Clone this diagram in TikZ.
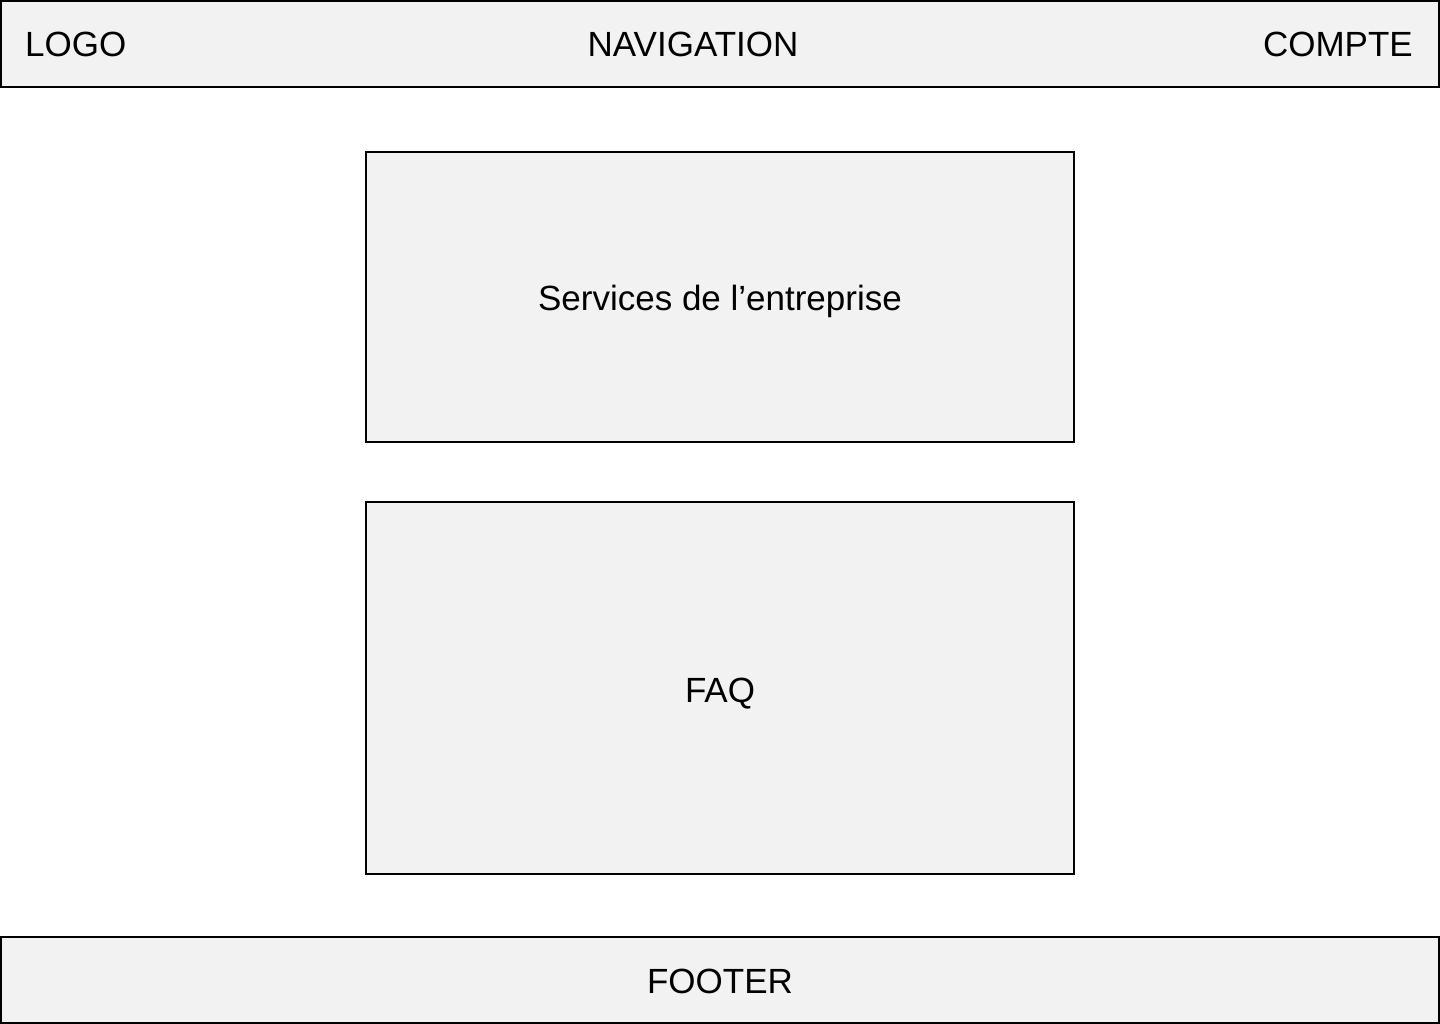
\documentclass[tikz,border=0pt]{standalone}
\usepackage{fontspec}
\setmainfont{Liberation Sans}
\begin{document}
\begin{tikzpicture}[x=1pt,y=-1pt,
  panel/.style={draw=black,line width=2pt,fill=panelgray},
  lbl/.style={font=\fontsize{35}{40}\selectfont,inner sep=0pt,anchor=base}]
\definecolor{panelgray}{HTML}{F2F2F2}
\useasboundingbox[fill=white] (0,0) rectangle (1440,1024);
\draw[panel] (1,1) rectangle (1439,87);
\draw[panel] (366,152) rectangle (1074,442);
\draw[panel] (366,502) rectangle (1074,874);
\draw[panel] (1,937) rectangle (1439,1023);
\node[lbl,anchor=base west] (logo) at (25,57) {LOGO};
\node[lbl] (nav) at (693,57) {NAVIGATION};
\node[lbl,anchor=base east] (compte) at (1413,57) {COMPTE};
\node[lbl] (services) at (720,311) {Services de l’entreprise};
\node[lbl] (faq) at (720,702) {FAQ};
\node[lbl] (footer) at (720,993) {FOOTER};
\end{tikzpicture}
\end{document}
